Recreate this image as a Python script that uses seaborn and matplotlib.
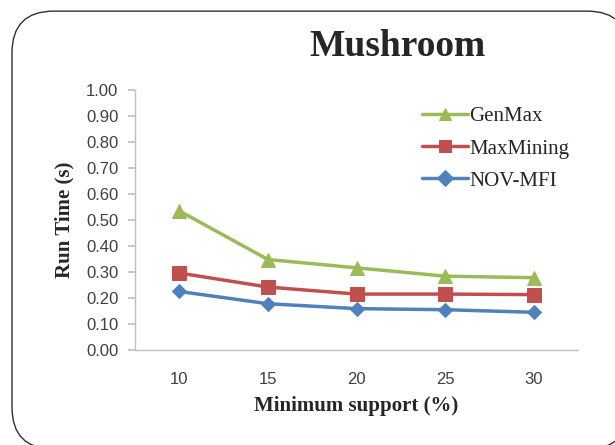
import matplotlib
matplotlib.use("Agg")
import matplotlib.pyplot as plt
from matplotlib.patches import FancyBboxPatch
import seaborn as sns
import pandas as pd

support = ["10", "15", "20", "25", "30"]
genmax = [0.535, 0.348, 0.316, 0.284, 0.278]
maxmining = [0.296, 0.242, 0.215, 0.215, 0.213]
novmfi = [0.225, 0.178, 0.159, 0.155, 0.145]
series_names = ["GenMax", "MaxMining", "NOV-MFI"]
y_ticks = [0.0, 0.1, 0.2, 0.3, 0.4, 0.5, 0.6, 0.7, 0.8, 0.9, 1.0]

df = pd.DataFrame({
    "support": support * 3,
    "time": genmax + maxmining + novmfi,
    "algo": sum([[n] * len(support) for n in series_names], []),
})

sns.set_theme(style="white")
plt.rcParams["font.family"] = ["Liberation Serif", "DejaVu Serif"]

fig = plt.figure(figsize=(6.15, 4.45), dpi=100)
ax = fig.add_axes([0.2195, 0.2135, 0.7205, 0.5843])

palette = {"GenMax": "#9BBB59", "MaxMining": "#C0504D", "NOV-MFI": "#4F81BD"}
markers = {"GenMax": "^", "MaxMining": "s", "NOV-MFI": "D"}
sizes = {"GenMax": 10, "MaxMining": 10, "NOV-MFI": 7}

for name in series_names:
    sub = df[df["algo"] == name]
    sns.lineplot(data=sub, x="support", y="time", color=palette[name],
                 marker=markers[name], markersize=sizes[name],
                 markeredgecolor=palette[name], linewidth=2.5,
                 sort=False, label=name, ax=ax)

ax.set_xlim(-0.5, 4.5)
ax.set_ylim(0, 1.0)
ax.set_yticks(y_ticks)
ax.set_yticklabels([f"{v:.2f}" for v in y_ticks])

for s in ["top", "right"]:
    ax.spines[s].set_visible(False)
for s in ["left", "bottom"]:
    ax.spines[s].set_color("#BFBFBF")
    ax.spines[s].set_linewidth(1.0)

ax.tick_params(axis="y", which="major", left=True, length=5, color="#BFBFBF",
               labelsize=12, pad=7, labelcolor="#404040")
ax.tick_params(axis="x", which="major", bottom=False, labelsize=12, pad=10,
               labelcolor="#404040")
for lab in ax.get_xticklabels() + ax.get_yticklabels():
    lab.set_family(["Liberation Sans", "DejaVu Sans"])

ax.set_xlabel("Minimum support (%)", fontsize=15, fontweight="bold", labelpad=6)
ax.set_ylabel("Run Time (s)", fontsize=15, fontweight="bold", labelpad=8)

leg = ax.legend(loc="upper left", bbox_to_anchor=(0.648, 0.935), frameon=False,
                fontsize=15, handlelength=2.2, handletextpad=0.05,
                labelspacing=0.6, borderaxespad=0, borderpad=0)
for h in leg.legend_handles:
    h.set_markersize(8)

fig.text(0.647, 0.895, "Mushroom", ha="center", va="center", fontsize=27,
         fontweight="bold")

# rounded border that runs past the right and bottom edges; a near-transparent
# face keeps Agg from line-clipping the curved corners at the canvas edge
frame = FancyBboxPatch((0.0195, -0.009), 1.003, 0.984,
                       boxstyle="round,pad=0,rounding_size=0.068",
                       transform=fig.transFigure,
                       facecolor=(1, 1, 1, 0.002),
                       edgecolor="#303030", linewidth=1.0,
                       mutation_aspect=615 / 445, clip_on=False, zorder=-1)
fig.patches.append(frame)

fig.savefig("out.png", dpi=100)
